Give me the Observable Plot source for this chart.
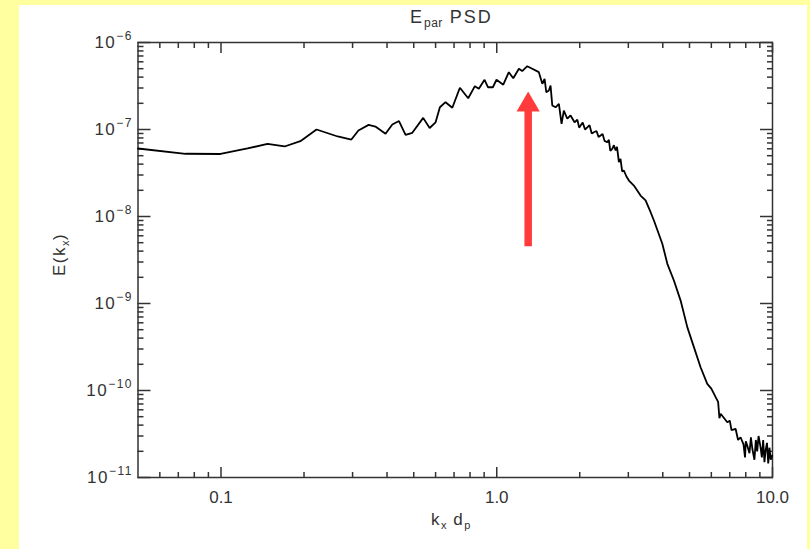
<!DOCTYPE html>
<html>
<head>
<meta charset="utf-8">
<script src="https://cdn.jsdelivr.net/npm/d3@7"></script>
<script src="https://cdn.jsdelivr.net/npm/@observablehq/plot@0.6"></script>
<style>
  body { margin: 0; background: #ffffa0; }
  #wrap { position: relative; width: 810px; height: 549px; overflow: hidden; }
  #panel { position: absolute; left: 19px; top: 5px; width: 788px; height: 544px; background: #fff; }
  #chart { position: absolute; left: 0; top: 0; }
  .lbl { position: absolute; font-family: "Liberation Sans", Arial, sans-serif; color: #333; font-size: 17px; letter-spacing: 1.5px; white-space: nowrap; }
  .lbl sub { font-size: 11px; vertical-align: -4px; letter-spacing: 0.5px; }
  #title { font-size: 18px; letter-spacing: 2px; }
  #title sub { font-size: 12px; }
</style>
</head>
<body>
<div id="wrap">
  <div id="panel"></div>
  <div id="chart"></div>
  <div class="lbl" id="title" style="left:410px; top:7px;">E<sub>par</sub> PSD</div>
  <div class="lbl" id="xlab" style="left:431px; top:510px;">k<sub>x</sub> d<sub>p</sub></div>
  <div class="lbl" id="ylab" style="left:34px; top:240px; transform: rotate(-90deg); transform-origin: 26px 10px;">E(k<sub>x</sub>)</div>
</div>
<script>
// ---- data ----
const kx = [0.050, 0.0744, 0.0996, 0.1248, 0.1475, 0.170, 0.194, 0.222, 0.265, 0.297,
  0.315, 0.343, 0.363, 0.395, 0.418, 0.442, 0.467, 0.494, 0.541, 0.571,
  0.600, 0.622, 0.652, 0.690, 0.735, 0.788, 0.833, 0.861, 0.903, 0.929,
  0.968, 0.998, 1.056, 1.106, 1.148, 1.203, 1.237, 1.290, 1.345, 1.421,
  1.463, 1.491, 1.512, 1.545, 1.567, 1.590, 1.634, 1.680, 1.718, 1.751,
  1.802, 1.852, 1.915, 1.96, 1.99, 2.014, 2.05, 2.09, 2.130, 2.17,
  2.21, 2.250, 2.30, 2.34, 2.380, 2.42, 2.46, 2.517, 2.55, 2.58,
  2.624, 2.66, 2.698, 2.73, 2.773, 2.81, 2.85, 2.891, 2.95, 3.015,
  3.143, 3.323, 3.465, 3.614, 3.715, 3.985, 4.156, 4.390, 4.643, 4.909,
  5.188, 5.485, 5.80, 6.0, 6.22, 6.35, 6.42, 6.485, 6.857, 7.0,
  7.1, 7.348, 7.5, 7.66, 7.85, 7.95, 8.0, 8.10, 8.25, 8.35,
  8.45, 8.6, 8.7, 8.8, 8.9, 9.05, 9.15, 9.25, 9.35, 9.44,
  9.55, 9.65, 9.75, 9.85, 9.97];
const E = [6.05e-8, 5.26e-8, 5.23e-8, 6.05e-8, 6.85e-8, 6.38e-8, 7.34e-8, 1.0e-7, 8.31e-8, 7.67e-8,
  9.74e-8, 1.13e-7, 1.08e-7, 8.93e-8, 1.14e-7, 1.25e-7, 8.69e-8, 9.17e-8, 1.36e-7, 1.04e-7,
  1.21e-7, 1.80e-7, 2.06e-7, 1.78e-7, 3.02e-7, 2.29e-7, 3.15e-7, 2.94e-7, 3.73e-7, 3.06e-7,
  3.06e-7, 3.73e-7, 3.27e-7, 4.56e-7, 3.89e-7, 4.99e-7, 4.70e-7, 5.34e-7, 4.99e-7, 4.56e-7,
  3.35e-7, 3.83e-7, 2.68e-7, 2.81e-7, 3.20e-7, 1.89e-7, 1.80e-7, 1.97e-7, 1.16e-7, 1.65e-7,
  1.33e-7, 1.45e-7, 1.21e-7, 1.30e-7, 1.05e-7, 1.11e-7, 1.20e-7, 1.0e-7, 1.06e-7, 1.12e-7,
  9.0e-8, 9.31e-8, 9.6e-8, 8.2e-8, 8.53e-8, 8.9e-8, 7.4e-8, 7.14e-8, 7.6e-8, 5.7e-8,
  6.0e-8, 6.6e-8, 5.74e-8, 6.3e-8, 4.21e-8, 4.6e-8, 3.3e-8, 3.38e-8, 2.9e-8, 2.59e-8,
  2.27e-8, 1.74e-8, 1.53e-8, 1.12e-8, 8.99e-9, 4.86e-9, 2.86e-9, 1.84e-9, 1.08e-9, 5.35e-10,
  3.15e-10, 1.85e-10, 1.19e-10, 1.05e-10, 8.38e-11, 7.4e-11, 4.8e-11, 5.40e-11, 4.32e-11, 4.5e-11,
  3.5e-11, 3.63e-11, 2.7e-11, 2.90e-11, 2.4e-11, 1.7e-11, 2.6e-11, 2.33e-11, 1.9e-11, 2.9e-11,
  2.14e-11, 1.6e-11, 2.7e-11, 2.0e-11, 3.0e-11, 2.23e-11, 1.7e-11, 2.7e-11, 1.5e-11, 2.04e-11,
  2.5e-11, 1.45e-11, 2.2e-11, 1.6e-11, 1.79e-11];

// axes
const xDomain = [0.05, 10];
const yDomain = [1e-11, 1e-6];
const xMajor = [0.1, 1, 10];
const xMajorLabels = ["0.1", "1.0", "10.0"];
const xMinor = [0.06, 0.07, 0.08, 0.09, 0.2, 0.3, 0.4, 0.5, 0.6, 0.7, 0.8, 0.9, 2, 3, 4, 5, 6, 7, 8, 9];
const yMajor = [1e-11, 1e-10, 1e-9, 1e-8, 1e-7, 1e-6];
const yMajorLabels = ["10^-11", "10^-10", "10^-9", "10^-8", "10^-7", "10^-6"];
const yMinor = [];
for (const d of yMajor.slice(0, -1)) for (let m = 2; m <= 9; m++) yMinor.push(d * m);

// annotation arrow (points at the peak)
const arrowX = [1.3];
const arrowTip = [2.73e-7];
const arrowBase = [4.5e-9];

const data = kx.map((k, i) => ({k, e: E[i]}));
const arrow = arrowX.map((x, i) => ({x, tip: arrowTip[i], base: arrowBase[i]}));

const tc = "#333";
const plot = Plot.plot({
  width: 810,
  height: 549,
  marginLeft: 137.5,
  marginRight: 38,
  marginTop: 42,
  marginBottom: 72,
  x: {type: "log", domain: xDomain},
  y: {type: "log", domain: yDomain},
  style: {background: "transparent", fontFamily: "'Liberation Sans', Arial, sans-serif", fontSize: "16px", color: tc},
  marks: [
    Plot.frame({stroke: tc, strokeWidth: 1.5}),
    // bottom axis
    Plot.axisX(xMajor, {anchor: "bottom", tickSize: -10, fill: "none", label: null, strokeWidth: 1.5, stroke: tc}),
    Plot.axisX(xMinor, {anchor: "bottom", tickSize: -5, fill: "none", label: null, strokeWidth: 1.5, stroke: tc}),
    Plot.axisX(xMajor, {anchor: "bottom", tickSize: 0, tickPadding: 13, label: null, fill: tc,
      tickFormat: d => xMajorLabels[xMajor.indexOf(d)], fontSize: 17}),
    // top axis (mirror)
    Plot.axisX(xMajor, {anchor: "top", tickSize: -10, fill: "none", label: null, strokeWidth: 1.5, stroke: tc}),
    Plot.axisX(xMinor, {anchor: "top", tickSize: -5, fill: "none", label: null, strokeWidth: 1.5, stroke: tc}),
    // left axis
    Plot.axisY(yMajor, {anchor: "left", tickSize: -13, fill: "none", label: null, strokeWidth: 1.5, stroke: tc}),
    Plot.axisY(yMinor, {anchor: "left", tickSize: -6, fill: "none", label: null, strokeWidth: 1.5, stroke: tc}),
    Plot.axisY(yMajor, {anchor: "left", tickSize: 0, tickPadding: 5, label: null, fill: tc,
      tickFormat: d => yMajorLabels[yMajor.indexOf(d)], fontSize: 17}),
    // right axis (mirror)
    Plot.axisY(yMajor, {anchor: "right", tickSize: -13, fill: "none", label: null, strokeWidth: 1.5, stroke: tc}),
    Plot.axisY(yMinor, {anchor: "right", tickSize: -6, fill: "none", label: null, strokeWidth: 1.5, stroke: tc}),
    // spectrum
    Plot.line(data, {x: "k", y: "e", stroke: "black", strokeWidth: 1.8, strokeLinejoin: "miter"}),
    // red arrow: shaft from base up to the head, head is a filled triangle at the tip
    Plot.ruleX(arrow, {x: "x", y1: "tip", y2: "base", insetTop: 18, stroke: "#ff3b3b", strokeWidth: 7.5}),
    Plot.dot(arrow, {x: "x", y: "tip", dy: 13.3, symbol: "triangle", r: 8.6, fill: "#ff3b3b", stroke: "none"})
  ]
});
document.getElementById("chart").appendChild(plot);

// render y labels as 10 with a superscript exponent
d3.select(plot).selectAll("text")
  .filter(function() { return this.textContent.includes("^"); })
  .each(function() {
    const t = d3.select(this);
    const [base, exp] = t.text().split("^");
    t.text("").attr("letter-spacing", 1.5);
    t.append("tspan").text(base);
    t.append("tspan").attr("font-size", 12).attr("dy", "-0.7em").text(exp.replace("-", "\u2212"));
  });
</script>
</body>
</html>
